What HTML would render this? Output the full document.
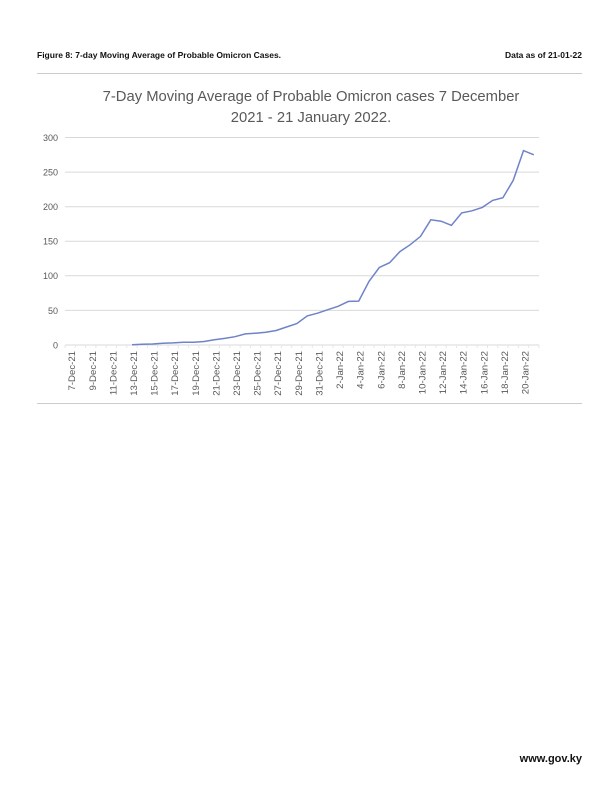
<!DOCTYPE html><html><head><style>
body{margin:0;width:612px;height:791px;background:#fff;position:relative;overflow:hidden;font-family:"Liberation Sans",sans-serif}
.h{position:absolute;top:50px;font-size:8.5px;font-weight:bold;color:#111}
</style></head><body>
<div class="h" style="left:37px">Figure 8: 7-day Moving Average of Probable Omicron Cases.</div>
<div class="h" style="right:30px">Data as of 21-01-22</div>
<div style="position:absolute;left:37px;right:30px;top:73px;height:1px;background:#ccc"></div>
<div style="position:absolute;left:37px;right:30px;top:403px;height:1px;background:#ccc"></div>
<div style="position:absolute;right:30px;top:753px;font-size:11px;font-weight:bold;color:#111">www.gov.ky</div>
<svg width="612" height="791" style="position:absolute;left:0;top:0" font-family="Liberation Sans,sans-serif">
<g fill="#595959" font-size="14.8" text-anchor="middle">
<text x="311" y="101">7-Day Moving Average of Probable Omicron cases 7 December</text>
<text x="311" y="122">2021 - 21 January 2022.</text></g>
<g stroke="#d9d9d9" stroke-width="1">
<line x1="65" x2="539" y1="137.5" y2="137.5"/><line x1="65" x2="539" y1="172.1" y2="172.1"/>
<line x1="65" x2="539" y1="206.7" y2="206.7"/><line x1="65" x2="539" y1="241.3" y2="241.3"/>
<line x1="65" x2="539" y1="275.8" y2="275.8"/><line x1="65" x2="539" y1="310.4" y2="310.4"/>
<line x1="65" x2="539" y1="345" y2="345"/></g>
<g fill="#595959" font-size="9" text-anchor="end">
<text x="58" y="141">300</text><text x="58" y="175.5">250</text><text x="58" y="210">200</text>
<text x="58" y="244.5">150</text><text x="58" y="279">100</text><text x="58" y="314">50</text><text x="58" y="348.5">0</text></g>
<g id="t" fill="#595959" font-size="9.6" text-anchor="end"></g>
<polyline id="p" fill="none" stroke="#6f83c8" stroke-width="1.5" points=""/>
</svg>
<script>
var v=[0.5,1,1.5,2.5,3,4,4,5,7.5,9.5,12,16,17,18.5,21,26,31,42,46,51,56,63,63.5,92,112,119,135,145,157,181,179,173,191,194,199,209,213,238,281,275];
var w=(539-65)/46,pts=[];
for(var i=0;i<v.length;i++){var x=65+(i+6.5)*w;pts.push(x.toFixed(1)+","+(345-v[i]*207.5/300).toFixed(1));}
document.getElementById('p').setAttribute('points',pts.join(' '));
var lab=["7-Dec-21","9-Dec-21","11-Dec-21","13-Dec-21","15-Dec-21","17-Dec-21","19-Dec-21","21-Dec-21","23-Dec-21","25-Dec-21","27-Dec-21","29-Dec-21","31-Dec-21","2-Jan-22","4-Jan-22","6-Jan-22","8-Jan-22","10-Jan-22","12-Jan-22","14-Jan-22","16-Jan-22","18-Jan-22","20-Jan-22"];
var g=document.getElementById('t'),s="";
for(var j=0;j<lab.length;j++){var x=65+(2*j+0.5)*w+5;s+='<text transform="translate('+x.toFixed(1)+',351) rotate(-90)">'+lab[j]+'</text>';}
for(var k=0;k<=46;k++){var xx=65+k*w;s+='<line x1="'+xx+'" x2="'+xx+'" y1="345" y2="348" stroke="#e6e6e6"/>';}
g.innerHTML=s;
</script>
</body></html>
